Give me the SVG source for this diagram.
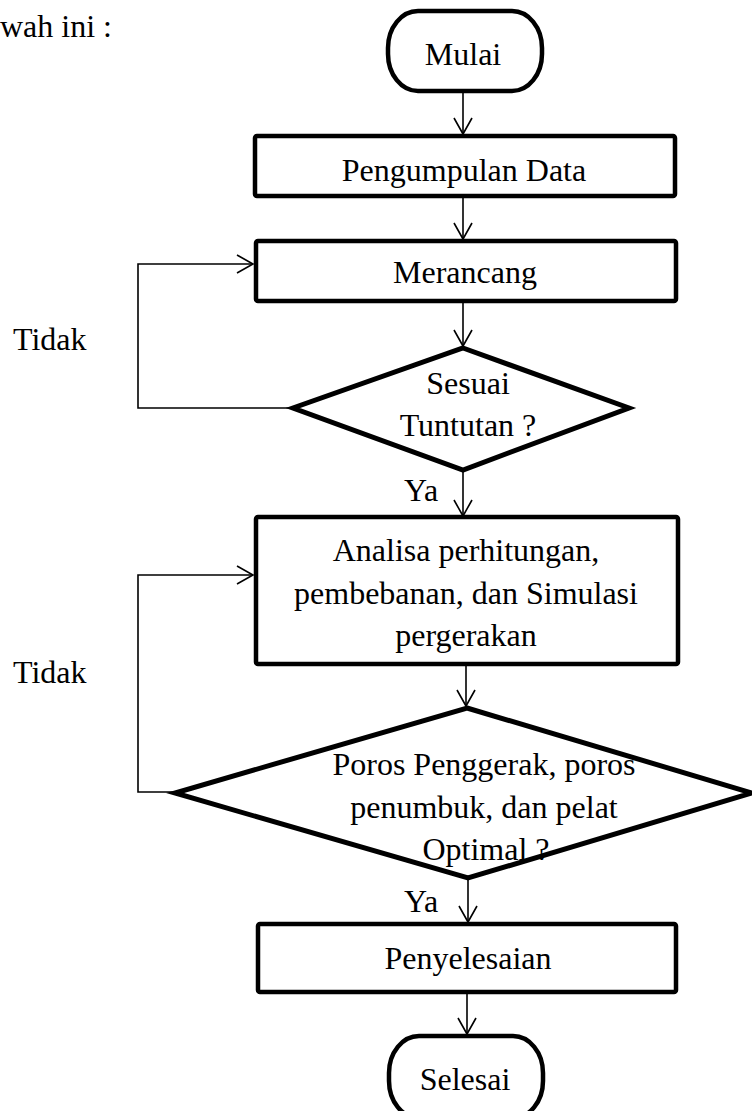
<svg xmlns="http://www.w3.org/2000/svg" width="752" height="1111" viewBox="0 0 752 1111">
<style>
text{font-family:"Liberation Serif","Times New Roman",serif;font-size:32px;fill:#000}
.c{text-anchor:middle}
.box{fill:#fff;stroke:#000;stroke-width:4.5;stroke-linejoin:round}
.dia{fill:#fff;stroke:#000;stroke-width:5;stroke-linejoin:miter}
.ln{fill:none;stroke:#000;stroke-width:1.6}
</style>
<defs>
<marker id="ah" viewBox="-18 -11 20 22" markerWidth="20" markerHeight="22" refX="0" refY="0" orient="auto" markerUnits="userSpaceOnUse">
<path d="M-16,-9 L0,0 L-16,9" fill="none" stroke="#000" stroke-width="1.6"/>
</marker>
</defs>
<rect width="752" height="1111" fill="#fff"/>
<text x="0" y="37">wah ini :</text>
<g id="connectors">
<path class="ln" d="M463,91 V134" marker-end="url(#ah)"/>
<path class="ln" d="M463,196 V239" marker-end="url(#ah)"/>
<path class="ln" d="M463,301 V346" marker-end="url(#ah)"/>
<path class="ln" d="M293,408 H138 V264 H253" marker-end="url(#ah)"/>
<path class="ln" d="M463,470 V516" marker-end="url(#ah)"/>
<path class="ln" d="M466,664 V706" marker-end="url(#ah)"/>
<path class="ln" d="M175,792 H138 V575 H253" marker-end="url(#ah)"/>
<path class="ln" d="M468,878 V922" marker-end="url(#ah)"/>
<path class="ln" d="M467,992 V1034" marker-end="url(#ah)"/>
</g>
<g id="mulai">
<rect class="box" x="388" y="11" width="154" height="80" rx="30" ry="37"/>
<text class="c" x="463" y="65">Mulai</text>
</g>
<g id="pengumpulan">
<rect class="box" x="255" y="136" width="420" height="60" rx="2"/>
<text class="c" x="464" y="181">Pengumpulan Data</text>
</g>
<g id="merancang">
<rect class="box" x="256" y="241" width="420" height="60" rx="2"/>
<text class="c" x="465" y="283">Merancang</text>
</g>
<g id="sesuai">
<polygon class="dia" points="463,348 629,408 463,470 293,408"/>
<text class="c" x="468" y="394">Sesuai</text>
<text class="c" x="468" y="436">Tuntutan ?</text>
</g>
<text x="13" y="350">Tidak</text>
<text x="404" y="501">Ya</text>
<g id="analisa">
<rect class="box" x="256" y="517" width="422" height="147" rx="2"/>
<text class="c" x="466" y="561">Analisa perhitungan,</text>
<text class="c" x="466" y="604">pembebanan, dan Simulasi</text>
<text class="c" x="466" y="646">pergerakan</text>
</g>
<text x="13" y="683">Tidak</text>
<g id="optimal">
<polygon class="dia" points="467,708 752,793 468,878 175,793"/>
<text class="c" x="484" y="775">Poros Penggerak, poros</text>
<text class="c" x="484" y="818">penumbuk, dan pelat</text>
<text class="c" x="486" y="860">Optimal ?</text>
</g>
<text x="404" y="912">Ya</text>
<g id="penyelesaian">
<rect class="box" x="258" y="924" width="418" height="68" rx="2"/>
<text class="c" x="468" y="969">Penyelesaian</text>
</g>
<g id="selesai">
<rect class="box" x="389" y="1036" width="154" height="82" rx="30" ry="37"/>
<text class="c" x="465" y="1090">Selesai</text>
</g>
</svg>
